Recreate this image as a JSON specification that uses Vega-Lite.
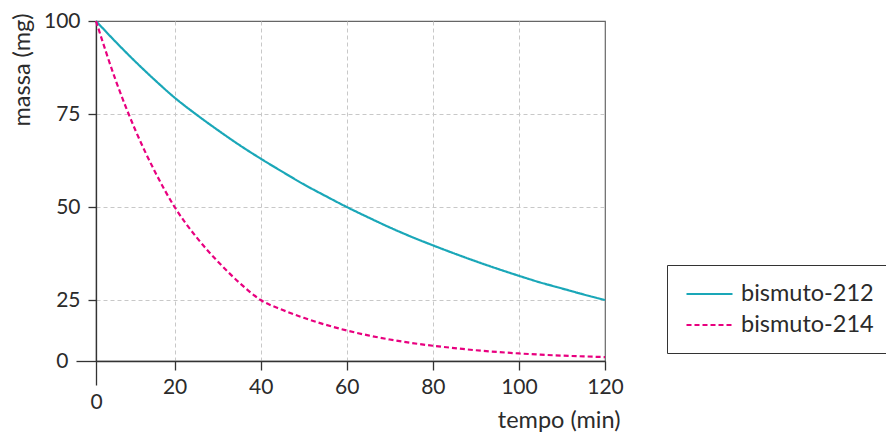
{
  "$schema": "https://vega.github.io/schema/vega-lite/v6.json",
  "autosize": {"type": "none"},
  "padding": {"left": 96, "top": 21, "right": 281, "bottom": 73},
  "width": 509,
  "height": 340,
  "background": "white",
  "config": {
    "font": "Lato",
    "view": {"stroke": "#666", "strokeWidth": 1.2},
    "axis": {
      "labelFont": "Lato",
      "titleFont": "Lato",
      "labelFontSize": 21,
      "titleFontSize": 23.5,
      "labelColor": "#2b2b2b",
      "titleColor": "#2b2b2b",
      "titleFontWeight": "normal",
      "domainColor": "#333",
      "domainWidth": 1.3,
      "tickColor": "#333",
      "tickWidth": 1.3,
      "gridColor": "#c8c8c8",
      "gridDash": [4, 3],
      "gridWidth": 1
    },
    "legend": {
      "labelFont": "Lato",
      "labelFontSize": 23.5,
      "labelColor": "#2b2b2b"
    }
  },
  "data": {
    "values": [
      {"t": 0, "m": 100, "s": "bismuto-212"},
      {"t": 5, "m": 94.4, "s": "bismuto-212"},
      {"t": 10, "m": 89.1, "s": "bismuto-212"},
      {"t": 15, "m": 84.1, "s": "bismuto-212"},
      {"t": 20, "m": 79.4, "s": "bismuto-212"},
      {"t": 25, "m": 74.9, "s": "bismuto-212"},
      {"t": 30, "m": 70.7, "s": "bismuto-212"},
      {"t": 35, "m": 66.7, "s": "bismuto-212"},
      {"t": 40, "m": 63.0, "s": "bismuto-212"},
      {"t": 45, "m": 59.5, "s": "bismuto-212"},
      {"t": 50, "m": 56.1, "s": "bismuto-212"},
      {"t": 55, "m": 53.0, "s": "bismuto-212"},
      {"t": 60, "m": 50.0, "s": "bismuto-212"},
      {"t": 65, "m": 47.2, "s": "bismuto-212"},
      {"t": 70, "m": 44.5, "s": "bismuto-212"},
      {"t": 75, "m": 42.0, "s": "bismuto-212"},
      {"t": 80, "m": 39.7, "s": "bismuto-212"},
      {"t": 85, "m": 37.5, "s": "bismuto-212"},
      {"t": 90, "m": 35.4, "s": "bismuto-212"},
      {"t": 95, "m": 33.4, "s": "bismuto-212"},
      {"t": 100, "m": 31.5, "s": "bismuto-212"},
      {"t": 105, "m": 29.7, "s": "bismuto-212"},
      {"t": 110, "m": 28.1, "s": "bismuto-212"},
      {"t": 115, "m": 26.5, "s": "bismuto-212"},
      {"t": 120, "m": 25.0, "s": "bismuto-212"},
      {"t": 0, "m": 100, "s": "bismuto-214"},
      {"t": 5, "m": 84.1, "s": "bismuto-214"},
      {"t": 10, "m": 70.7, "s": "bismuto-214"},
      {"t": 15, "m": 59.5, "s": "bismuto-214"},
      {"t": 20, "m": 50.0, "s": "bismuto-214"},
      {"t": 25, "m": 42.0, "s": "bismuto-214"},
      {"t": 30, "m": 35.4, "s": "bismuto-214"},
      {"t": 35, "m": 29.7, "s": "bismuto-214"},
      {"t": 40, "m": 25.0, "s": "bismuto-214"},
      {"t": 45, "m": 21.0, "s": "bismuto-214"},
      {"t": 50, "m": 17.7, "s": "bismuto-214"},
      {"t": 55, "m": 14.9, "s": "bismuto-214"},
      {"t": 60, "m": 12.5, "s": "bismuto-214"},
      {"t": 65, "m": 10.5, "s": "bismuto-214"},
      {"t": 70, "m": 8.8, "s": "bismuto-214"},
      {"t": 75, "m": 7.4, "s": "bismuto-214"},
      {"t": 80, "m": 6.25, "s": "bismuto-214"},
      {"t": 85, "m": 5.3, "s": "bismuto-214"},
      {"t": 90, "m": 4.4, "s": "bismuto-214"},
      {"t": 95, "m": 3.7, "s": "bismuto-214"},
      {"t": 100, "m": 3.1, "s": "bismuto-214"},
      {"t": 105, "m": 2.6, "s": "bismuto-214"},
      {"t": 110, "m": 2.2, "s": "bismuto-214"},
      {"t": 115, "m": 1.9, "s": "bismuto-214"},
      {"t": 120, "m": 1.6, "s": "bismuto-214"}
    ]
  },
  "mark": {"type": "line", "strokeWidth": 2.2, "interpolate": "monotone", "clip": false},
  "encoding": {
    "x": {
      "field": "t",
      "type": "quantitative",
      "scale": {"domain": [0, 20, 120], "range": [0, 78.6, 509], "nice": false, "zero": false},
      "axis": {
        "values": [0, 20, 40, 60, 80, 100, 120],
        "title": "tempo (min)",
        "titleFontSize": 23.5,
        "titleAlign": "right",
        "titleAnchor": null,
        "titleX": 524,
        "titleY": 66,
        "titleBaseline": "alphabetic",
        "tickSize": {"condition": {"test": "datum.value === 0", "value": 24}, "value": 9},
        "labelPadding": 6,
        "gridOpacity": {"condition": {"test": "datum.value === 0 || datum.value === 120", "value": 0}, "value": 1},
        "labelFlush": false,
        "labelOverlap": false
      }
    },
    "y": {
      "field": "m",
      "type": "quantitative",
      "scale": {"domain": [0, 25, 100], "range": [340, 279, 0], "nice": false, "zero": false},
      "axis": {
        "values": [0, 25, 50, 75, 100],
        "title": "massa (mg)",
        "titleFontSize": 23.5,
        "titleAlign": "right",
        "titleAnchor": null,
        "titleAngle": 270,
        "titleX": -67,
        "titleY": -8,
        "titleBaseline": "alphabetic",
        "tickSize": {"condition": {"test": "datum.value === 0", "value": 20}, "value": 8},
        "labelPadding": 8,
        "gridOpacity": {"condition": {"test": "datum.value === 0 || datum.value === 100", "value": 0}, "value": 1},
        "labelFlush": false,
        "labelOverlap": false
      }
    },
    "color": {
      "field": "s",
      "type": "nominal",
      "scale": {"domain": ["bismuto-212", "bismuto-214"], "range": ["#1aa7b8", "#e8007f"]},
      "legend": {
        "title": null,
        "orient": "none",
        "legendX": 571,
        "legendY": 244,
        "symbolType": "M-2,0H2",
        "symbolSize": 529,
        "symbolStrokeWidth": 2.2,
        "symbolFillColor": "transparent",
        "symbolOffset": 13.5,
        "strokeColor": "#333",
        "padding": 16,
        "labelOffset": 18.5,
        "rowPadding": 6
      }
    },
    "strokeDash": {
      "field": "s",
      "type": "nominal",
      "scale": {"domain": ["bismuto-212", "bismuto-214"], "range": [[1, 0], [5, 3]]},
      "legend": {
        "title": null,
        "orient": "none",
        "legendX": 571,
        "legendY": 244,
        "symbolType": "M-2,0H2",
        "symbolSize": 529,
        "symbolStrokeWidth": 2.2,
        "symbolFillColor": "transparent",
        "symbolOffset": 13.5,
        "strokeColor": "#333",
        "padding": 16,
        "labelOffset": 18.5,
        "rowPadding": 6
      }
    }
  }
}
